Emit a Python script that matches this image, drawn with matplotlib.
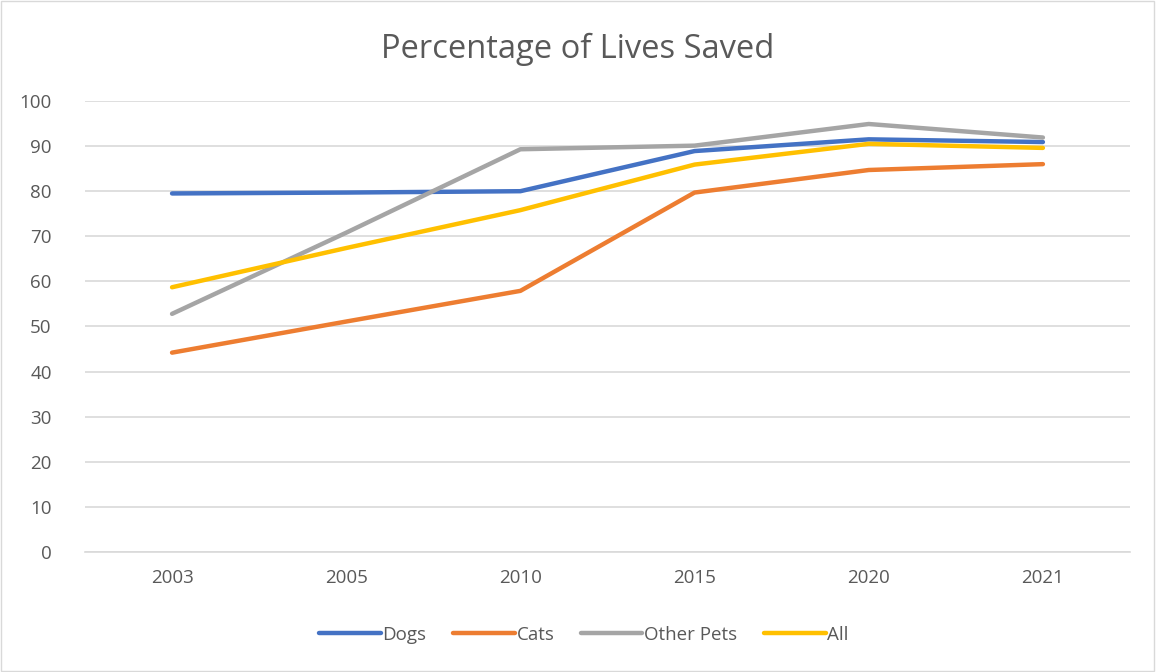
import numpy as np
import matplotlib
matplotlib.use("Agg")
import matplotlib.pyplot as plt
from matplotlib.patches import Rectangle

plt.rcParams['font.family'] = ['Open Sans', 'DejaVu Sans']

# values
years = ["2003", "2005", "2010", "2015", "2020", "2021"]
dogs = [79.5, 79.7, 80.0, 88.9, 91.5, 90.9]
cats = [44.2, 51.1, 57.9, 79.7, 84.7, 86.0]
other_pets = [52.8, 70.8, 89.3, 90.1, 94.9, 91.9]
all_pets = [58.7, 67.4, 75.8, 85.9, 90.5, 89.6]

series = [("Dogs", dogs, "#4472C4"),
          ("Cats", cats, "#ED7D31"),
          ("Other Pets", other_pets, "#A5A5A5"),
          ("All", all_pets, "#FFC000")]

txt = "#595959"

fig = plt.figure(figsize=(11.56, 6.72), dpi=100)
ax = fig.add_axes([0.0735, 0.1786, 0.904, 0.6711])

x = np.arange(len(years))
for name, vals, col in series:
    ax.plot(x, vals, color=col, lw=3.2, label=name, solid_capstyle="round")

ax.set_xlim(-0.5, len(years) - 0.5)
ax.set_ylim(0, 100)
ax.set_yticks(range(0, 101, 10))
ax.set_xticks(x)
ax.set_xticklabels(years)
ax.grid(axis="y", color="#D9D9D9", lw=1.2)
ax.set_axisbelow(True)
for s in ["top", "right", "left"]:
    ax.spines[s].set_visible(False)
ax.spines["bottom"].set_color("#D9D9D9")
ax.spines["bottom"].set_linewidth(1.2)
ax.tick_params(axis="both", length=0, labelsize=13.5, colors=txt)
ax.tick_params(axis="x", pad=12)
ax.tick_params(axis="y", pad=24)

fig.text(0.5, 0.927, "Percentage of Lives Saved", ha="center", va="center",
         fontsize=23.5, color=txt)

leg = fig.legend(loc="center", bbox_to_anchor=(0.505, 0.055), ncol=4, frameon=False,
                 fontsize=13.5, handlelength=3.3, handletextpad=0.1,
                 columnspacing=1.4)
for t in leg.get_texts():
    t.set_color(txt)

fig.patches.append(Rectangle((0.001, 0.001), 0.997, 0.997, transform=fig.transFigure,
                             fill=False, edgecolor="#D9D9D9", lw=1))

fig.savefig("out.png", dpi=100)
